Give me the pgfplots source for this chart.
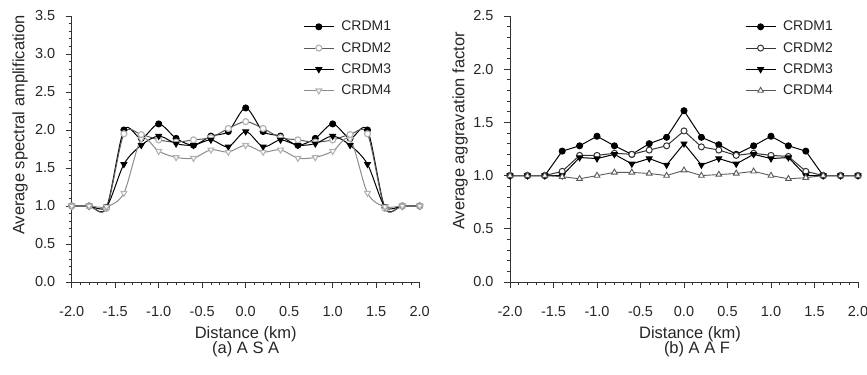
\documentclass[border=0pt]{standalone}
\usepackage{pgfplots}
\pgfplotsset{compat=1.18}
\usepackage{pgfplotstable}
\usepackage{fontspec}
\setmainfont{Liberation Sans}

\definecolor{gA}{HTML}{5A5A5A}
\definecolor{gB}{HTML}{8C8C8C}
\definecolor{gC}{HTML}{B4B4B4}

% (a) Average spectral amplification
\pgfplotstableread{
x c1 c2 c3 c4
-2.0 1.00 1.00 1.00 1.00
-1.8 1.00 1.00 1.00 1.00
-1.6 0.98 0.97 0.99 0.99
-1.4 2.00 1.95 1.55 1.17
-1.2 1.89 1.94 1.80 1.88
-1.0 2.08 1.87 1.92 1.72
-0.8 1.89 1.84 1.82 1.64
-0.6 1.80 1.87 1.80 1.63
-0.4 1.92 1.90 1.87 1.74
-0.2 1.98 2.02 1.78 1.71
0.0 2.29 2.11 1.98 1.80
0.2 1.98 2.02 1.78 1.71
0.4 1.92 1.90 1.87 1.74
0.6 1.80 1.87 1.80 1.63
0.8 1.89 1.84 1.82 1.64
1.0 2.08 1.87 1.92 1.72
1.2 1.89 1.94 1.80 1.88
1.4 2.00 1.95 1.55 1.17
1.6 0.98 0.97 0.99 0.99
1.8 1.00 1.00 1.00 1.00
2.0 1.00 1.00 1.00 1.00
}\asa

% (b) Average aggravation factor
\pgfplotstableread{
x c1 c2 c3 c4
-2.0 1.00 1.00 1.00 1.00
-1.8 1.00 1.00 1.00 1.00
-1.6 1.00 1.00 1.00 1.00
-1.4 1.23 1.04 1.00 0.99
-1.2 1.28 1.19 1.17 0.97
-1.0 1.37 1.19 1.16 1.00
-0.8 1.28 1.21 1.20 1.03
-0.6 1.20 1.20 1.11 1.03
-0.4 1.30 1.24 1.16 1.02
-0.2 1.36 1.28 1.10 1.00
0.0 1.61 1.42 1.30 1.05
0.2 1.36 1.27 1.10 1.00
0.4 1.29 1.24 1.16 1.01
0.6 1.20 1.19 1.11 1.02
0.8 1.28 1.21 1.20 1.04
1.0 1.37 1.19 1.16 1.00
1.2 1.28 1.18 1.17 0.97
1.4 1.23 1.04 1.00 0.98
1.6 1.00 1.00 1.00 1.00
1.8 1.00 1.00 1.00 1.00
2.0 1.00 1.00 1.00 1.00
}\aaf

\pgfplotsset{
  myaxis/.style={
    scale only axis, width=348bp, height=266bp,
    axis lines*=left,
    axis line style={line width=0.8bp, black!80},
    xmin=-2, xmax=2, ymin=0,
    xtick={-2,-1.5,-1,-0.5,0,0.5,1,1.5,2},
    minor x tick num=4, minor y tick num=4,
    tick align=outside, major tick length=6bp, minor tick length=3bp,
    every tick/.style={black!80, line width=0.7bp},
    /pgf/number format/fixed, /pgf/number format/fixed zerofill,
    /pgf/number format/precision=1, /pgf/number format/assume math mode=true,
    ticklabel style={font=\fontsize{14.5bp}{17bp}\selectfont, text=black!85},
    xticklabel style={yshift=-15bp},
    yticklabel style={xshift=-7bp},
    every axis x label/.style={at={(axis description cs:0.5,0)}, anchor=center, yshift=-52bp},
    label style={font=\fontsize{16.5bp}{19bp}\selectfont, text=black!85},
    legend cell align=left,
    legend style={draw=none, fill=none, anchor=north west, inner sep=0pt,
      font=\fontsize{14bp}{16bp}\selectfont, text=black!85,
      row sep=8bp, column sep=0bp, nodes={inner sep=1bp}},
    legend image code/.code={\draw[mark repeat=2, mark phase=2] plot coordinates {(0bp,0bp) (15bp,0bp) (30bp,0bp)};},
    clip=false,
  },
}

\begin{document}
\begin{tikzpicture}
\useasboundingbox (0,0) rectangle (867bp,375bp);

\begin{axis}[myaxis, at={(71.7bp,93bp)}, anchor=south west,
  ymax=3.5, ytick={0,0.5,1,1.5,2,2.5,3,3.5},
  xlabel={Distance (km)},
  legend style={at={(rel axis cs:0.665,0.985)}}]
\addplot[black, line width=1bp, smooth, mark=*, mark size=3bp, mark options={fill=black, solid}] table[x=x, y=c1] {\asa};
\addlegendentry{\hspace{6bp}CRDM1}
\addplot[gA, line width=1bp, smooth, mark=*, mark size=3bp, mark options={fill=white, draw=gC, line width=1.2bp}] table[x=x, y=c2] {\asa};
\addlegendentry{\hspace{6bp}CRDM2}
\addplot[black, line width=1bp, smooth, mark=triangle*, mark size=3.3bp, mark options={fill=black, rotate=180}] table[x=x, y=c3] {\asa};
\addlegendentry{\hspace{6bp}CRDM3}
\addplot[gB, line width=1bp, smooth, mark=triangle*, mark size=3.3bp, mark options={fill=white, draw=gC, line width=1.1bp, rotate=180}] table[x=x, y=c4] {\asa};
\addlegendentry{\hspace{6bp}CRDM4}
\node[font=\fontsize{16.5bp}{19bp}\selectfont, text=black!85] at (rel axis cs:0.5,0) [yshift=-67bp] {(a) A S A};
\end{axis}

\begin{axis}[myaxis, at={(510bp,93bp)}, anchor=south west,
  ymax=2.5, ytick={0,0.5,1,1.5,2,2.5},
  xlabel={Distance (km)},
  every axis x label/.append style={xshift=6bp},
  legend style={at={(rel axis cs:0.675,0.985)}}]
\addplot[black, line width=1bp, mark=*, mark size=3bp, mark options={fill=black}] table[x=x, y=c1] {\aaf};
\addlegendentry{\hspace{6bp}CRDM1}
\addplot[black!80, line width=1bp, mark=*, mark size=3bp, mark options={fill=white, draw=black!80, line width=1bp}] table[x=x, y=c2] {\aaf};
\addlegendentry{\hspace{6bp}CRDM2}
\addplot[black, line width=1bp, mark=triangle*, mark size=3.3bp, mark options={fill=black, rotate=180}] table[x=x, y=c3] {\aaf};
\addlegendentry{\hspace{6bp}CRDM3}
\addplot[gA, line width=0.9bp, mark=triangle*, mark size=3.3bp, mark options={fill=white, draw=gA, line width=0.9bp}] table[x=x, y=c4] {\aaf};
\addlegendentry{\hspace{6bp}CRDM4}
\node[font=\fontsize{16.5bp}{19bp}\selectfont, text=black!85] at (rel axis cs:0.5,0) [yshift=-67bp, xshift=13bp] {(b) A A F};
\end{axis}

\node[rotate=90, font=\fontsize{16.5bp}{19bp}\selectfont, text=black!85] at (20bp,250bp) {Average spectral amplification};
\node[rotate=90, font=\fontsize{16.5bp}{19bp}\selectfont, text=black!85] at (460bp,244bp) {Average aggravation factor};
\end{tikzpicture}
\end{document}
